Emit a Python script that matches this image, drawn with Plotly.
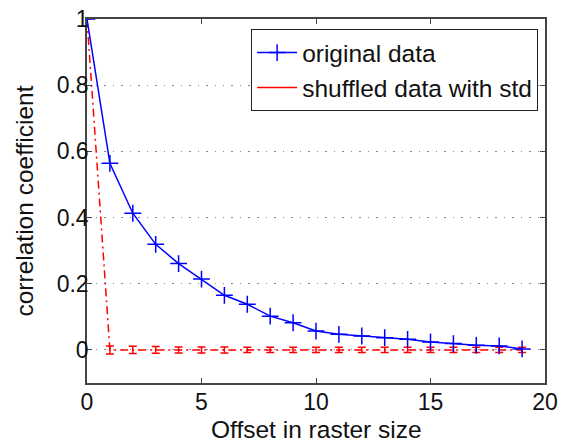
import plotly.graph_objects as go

offsets = list(range(20))
original = [1.0, 0.564, 0.413, 0.319, 0.261, 0.214, 0.165, 0.138, 0.102, 0.082,
            0.057, 0.047, 0.042, 0.037, 0.032, 0.024, 0.019, 0.014, 0.012, 0.003]
shuffled = [1.0] + [0.0] * 19
shuffled_std = [0.0, 0.012, 0.011, 0.010, 0.009, 0.009, 0.009, 0.008, 0.008, 0.008,
                0.008, 0.008, 0.008, 0.008, 0.008, 0.008, 0.008, 0.008, 0.008, 0.008]

x_ticks = [0, 5, 10, 15, 20]
y_ticks = [0, 0.2, 0.4, 0.6, 0.8, 1]
y_ticktext = ["0", "0.2", "0.4", "0.6", "0.8", "1"]
x_title = "Offset in raster size"
y_title = "correlation coefficient"

FONT = "Liberation Sans, Arial, Helvetica, sans-serif"

fig = go.Figure()
fig.add_trace(go.Scatter(
    x=offsets, y=shuffled, mode="lines", showlegend=False,
    line=dict(color="#ff0000", width=1.5, dash="8px,4px,2px,4px"),
    error_y=dict(type="data", array=shuffled_std, visible=True,
                 color="#ff0000", thickness=1.5, width=4),
))
fig.add_trace(go.Scatter(
    x=offsets, y=original, mode="lines+markers", name="original data",
    line=dict(color="#0000ff", width=1.5),
    marker=dict(symbol="cross-thin", size=12, color="#0000ff",
                line=dict(color="#0000ff", width=1.5)),
))
fig.add_trace(go.Scatter(
    x=[None], y=[None], mode="lines", name="shuffled data with std",
    line=dict(color="#ff0000", width=1.5),
))

axis_common = dict(
    showline=True, linecolor="#444444", linewidth=1.5, mirror="ticks",
    ticks="inside", ticklen=5, tickcolor="#444444", tickwidth=1,
    zeroline=False, automargin=False,
    tickfont=dict(family=FONT, size=23, color="#111111"),
)

fig.update_xaxes(
    range=[0, 20], tickvals=x_ticks, showgrid=False,
    ticklabelstandoff=-2,
    **axis_common,
)
fig.update_yaxes(
    range=[-0.1, 1], tickvals=y_ticks, ticktext=y_ticktext,
    showgrid=True, gridcolor="#888888", gridwidth=1, griddash="1.5px,7px",
    title=dict(text=y_title, font=dict(family=FONT, size=24.5, color="#111111"), standoff=16),
    ticklabelstandoff=-8,
    **axis_common,
)

fig.add_annotation(
    text=x_title, xref="paper", yref="paper", x=0.5, y=0,
    xanchor="center", yanchor="middle", yshift=-46, showarrow=False,
    font=dict(family=FONT, size=24.5, color="#111111"),
)

fig.update_layout(
    width=569, height=444,
    margin=dict(l=87, r=24, t=19, b=61),
    paper_bgcolor="white", plot_bgcolor="white",
    legend=dict(
        x=0.985, y=0.972, xanchor="right", yanchor="top",
        bordercolor="#222222", borderwidth=1, bgcolor="white",
        font=dict(family=FONT, size=24.5, color="#111111"),
        tracegroupgap=0, itemwidth=40,
    ),
    showlegend=True,
)

fig.write_html("out.html")
